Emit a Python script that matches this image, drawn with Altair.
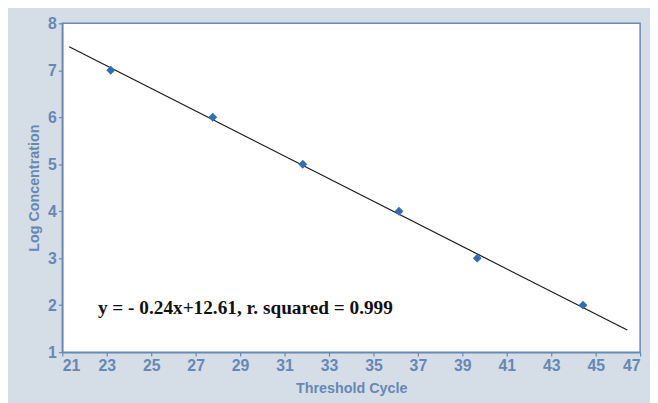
import altair as alt
import pandas as pd

# Data
cycle = [23.18, 27.77, 31.82, 36.15, 39.67, 44.43]
log_conc = [7.0, 6.0, 5.0, 4.0, 3.0, 2.0]

fit_x = [21.31, 46.42]
fit_y = [7.50, 1.47]

label_text = ["y = - 0.24x+12.61, r. squared = 0.999"]
label_x = [22.6]
label_y = [1.94]

x_ticks = list(range(21, 48))
y_ticks = [1 + 0.5 * i for i in range(15)]

AXIS_BLUE = "#6789b4"
LABEL_BLUE = "#6688b5"
BG = "#d5dde7"

pts = pd.DataFrame({"x": cycle, "y": log_conc})
fit = pd.DataFrame({"x": fit_x, "y": fit_y})
ann = pd.DataFrame({"x": label_x, "y": label_y, "t": label_text})

xscale = alt.Scale(domain=[21, 47], nice=False, zero=False)
yscale = alt.Scale(domain=[1, 8], nice=False, zero=False)

common = dict(
    grid=False,
    domainColor=AXIS_BLUE,
    domainWidth=1.5,
    tickColor=AXIS_BLUE,
    tickWidth=1.2,
    tickSize=4,
    labelPadding=2,
    labelColor=LABEL_BLUE,
    labelFont="Liberation Sans",
    labelFontWeight="bold",
    labelFontSize=16,
    titleColor=LABEL_BLUE,
    titleFont="Liberation Sans",
    titleFontWeight="bold",
    titleFontSize=14.5,
)

xaxis = alt.Axis(
    title="Threshold Cycle",
    values=x_ticks,
    labelExpr="datum.value % 2 == 1 ? datum.label : ''",
    titlePadding=8,
    **common,
)
yaxis = alt.Axis(
    title="Log Concentration",
    values=y_ticks,
    labelExpr="datum.value % 1 == 0 ? datum.label : ''",
    titlePadding=6,
    **common,
)

line = alt.Chart(fit).mark_line(color="#1a1a1a", strokeWidth=1.2).encode(
    x=alt.X("x:Q", scale=xscale, axis=xaxis),
    y=alt.Y("y:Q", scale=yscale, axis=yaxis),
)
points = alt.Chart(pts).mark_point(
    shape="diamond", filled=True, size=80, color="#2f6db5", opacity=1
).encode(x=alt.X("x:Q", scale=xscale), y=alt.Y("y:Q", scale=yscale))
text = alt.Chart(ann).mark_text(
    align="left", baseline="middle", font="Liberation Serif",
    fontWeight="bold", fontSize=19.5, color="#111111"
).encode(x=alt.X("x:Q", scale=xscale), y=alt.Y("y:Q", scale=yscale), text="t:N")

chart = alt.layer(line, points, text).properties(
    width=585,
    height=333,
    background=BG,
    padding={"left": 55, "top": 13, "right": 10, "bottom": 49},
    autosize=alt.AutoSizeParams(type="none"),
).configure_view(
    fill="white", stroke=AXIS_BLUE, strokeWidth=1.5
)

chart.save("out.html", embed_options={"renderer": "svg", "actions": False})
